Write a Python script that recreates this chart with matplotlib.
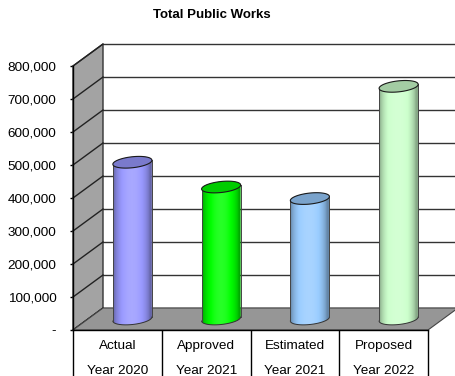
import matplotlib.pyplot as plt
import numpy as np
from matplotlib.patches import Polygon
from matplotlib.ticker import FuncFormatter

plt.rcParams['font.family'] = ['Liberation Sans', 'DejaVu Sans']

# expenditure per budget column
top_labels = ['Actual', 'Approved', 'Estimated', 'Proposed']
bottom_labels = ['Year 2020', 'Year 2021', 'Year 2021', 'Year 2022']
values = [475000, 400000, 365000, 705000]
bar_colors = ['#9999ff', '#00ff00', '#99ccff', '#ccffcc']
y_ticks = list(range(0, 800001, 100000))

fig = plt.figure(figsize=(4.55, 3.76), dpi=100)
ax = fig.add_axes([73 / 455, 46 / 376, 355 / 455, 264 / 376])

ymax = 800000
ncat = len(values)
ax.set_xlim(0, ncat)
ax.set_ylim(0, ymax)

# depth of the 3d box, given in pixels and turned into data units
px_x = 355 / ncat
px_y = 264 / ymax
ddx = 30 / px_x
ddy = 22 / px_y

# back wall + gridlines
ax.add_patch(Polygon([(ddx, ddy), (ncat + ddx, ddy), (ncat + ddx, ymax + ddy), (ddx, ymax + ddy)],
                     closed=True, facecolor='white', edgecolor='none', zorder=0, clip_on=False))
for v in y_ticks:
    ax.plot([ddx, ncat + ddx + 0.2], [v + ddy, v + ddy], color='#333333', lw=1, zorder=1, clip_on=False)

# left side wall
ax.add_patch(Polygon([(0, 0), (ddx, ddy), (ddx, ymax + ddy), (0, ymax)], closed=True,
                     facecolor='#a3a3a3', edgecolor='#333333', lw=1, zorder=2, clip_on=False))
for v in y_ticks:
    ax.plot([0, ddx], [v, v + ddy], color='#222222', lw=1, zorder=2, clip_on=False)

# floor
ax.add_patch(Polygon([(0, 0), (ncat, 0), (ncat + ddx, ddy), (ddx, ddy)], closed=True,
                     facecolor='#969696', edgecolor='#444444', lw=0.8, zorder=3, clip_on=False))
ax.plot([0, ncat], [0, 0], color='black', lw=1, zorder=3, clip_on=False)


def shade(base, m):
    base = np.array(base)
    if m <= 1:
        return base * m
    return base + (1 - base) * (m - 1) * 1.5


# cylinders standing half way into the box
half_w = 0.22
eh = 5.5 / px_y
tilt = 2.0 / px_y
t = np.linspace(0, 2 * np.pi, 200)
ncol = 80
prof = np.linspace(0, 1, ncol)
mult = 0.66 + 0.44 * np.sin(np.pi * np.clip(prof * 1.1 - 0.02, 0, 1)) ** 0.6

for i, (val, col) in enumerate(zip(values, bar_colors)):
    cx = i + 0.5 + ddx / 2
    y0 = ddy / 2
    y1 = val + ddy / 2
    base = np.array(plt.matplotlib.colors.to_rgb(col))

    ex = cx + half_w * np.cos(t)
    ey_off = eh * np.sin(t) + tilt * np.cos(t)

    lower = (t >= np.pi)
    upper = (t <= np.pi)
    body = np.vstack([
        np.column_stack([ex[lower], y0 + ey_off[lower]]),
        np.column_stack([ex[upper], y1 + ey_off[upper]]),
    ])
    clip = Polygon(body, closed=True, facecolor='none', edgecolor='none', transform=ax.transData)
    ax.add_patch(clip)

    grad = np.array([[np.clip(shade(base, m), 0, 1) for m in mult]])
    img = ax.imshow(grad, extent=(cx - half_w, cx + half_w, y0 - eh - tilt, y1 + eh + tilt),
                    aspect='auto', interpolation='bilinear', zorder=4)
    img.set_clip_path(clip)

    # outline of the body
    ax.plot(ex[lower], y0 + ey_off[lower], color='#333333', lw=0.7, zorder=5)
    ax.plot([cx - half_w, cx - half_w], [y0 - tilt, y1 - tilt], color='#444444', lw=0.7, zorder=5)
    ax.plot([cx + half_w, cx + half_w], [y0 + tilt, y1 + tilt], color='#444444', lw=0.7, zorder=5)

    # top cap
    ax.add_patch(Polygon(np.column_stack([ex, y1 + ey_off]), closed=True,
                         facecolor=shade(base, 0.8), edgecolor='#1a1a1a', lw=0.8, zorder=6))

ax.set_xlim(0, ncat)
ax.set_ylim(0, ymax)

# value axis
for s in ['top', 'right', 'bottom']:
    ax.spines[s].set_visible(False)
ax.spines['left'].set_color('black')
ax.spines['left'].set_linewidth(1)
ax.spines['left'].set_zorder(7)
ax.set_yticks(y_ticks)
ax.yaxis.set_major_formatter(FuncFormatter(lambda v, p: '-' if v == 0 else f'{v:,.0f}'))
ax.tick_params(axis='y', direction='out', length=2.5, width=1, pad=9.5, labelsize=9.7, colors='black')
ax.set_xticks([])

# category table under the floor
ax.vlines(range(ncat + 1), -0.25, 0, transform=ax.get_xaxis_transform(), colors='black',
          lw=1, clip_on=False)
for i in range(ncat):
    ax.text(i + 0.5, -16 / 264, top_labels[i], transform=ax.get_xaxis_transform(),
            ha='center', va='center', fontsize=9.7)
    ax.text(i + 0.5, -41 / 264, bottom_labels[i], transform=ax.get_xaxis_transform(),
            ha='center', va='center', fontsize=9.7)

fig.text(212 / 455, 1 - 15 / 376, 'Total Public Works', ha='center', va='center',
         fontsize=9.5, fontweight='bold')

fig.savefig('out.png', dpi=100)
